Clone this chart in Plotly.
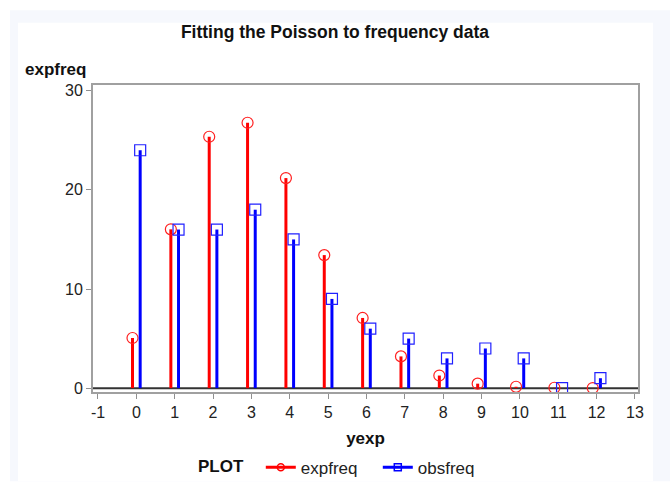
import plotly.graph_objects as go

yexp = [0, 1, 2, 3, 4, 5, 6, 7, 8, 9, 10, 11, 12]
expfreq = [5.06, 16.02, 25.36, 26.77, 21.19, 13.42, 7.08, 3.20, 1.27, 0.45, 0.14, 0.04, 0.01]
obsfreq = [24, 16, 16, 18, 15, 9, 6, 5, 3, 4, 3, 0, 1]
x_ticks = list(range(-1, 14))

offset = 0.1
W, H = 670, 498
L, R, T, B = 93, 32, 85, 93
pw, ph = W - L - R, H - T - B

def px_x(p):
    return (p - L) / pw

def px_y(p):
    return (H - B - p) / ph

FONT = "Liberation Sans, Arial, sans-serif"
RED = "#ff0000"
BLUE = "#0000ff"

fig = go.Figure()

fig.add_trace(go.Scatter(
    x=[v - offset for v in yexp], y=expfreq, mode="markers",
    marker=dict(symbol="circle-open", size=11, color="#ff2020", line=dict(width=1.2)),
    error_y=dict(type="data", symmetric=False, array=[0] * len(expfreq),
                 arrayminus=expfreq, thickness=3, width=0, color=RED),
    showlegend=False, hoverinfo="x+y"))

fig.add_trace(go.Scatter(
    x=[v + offset for v in yexp], y=obsfreq, mode="markers",
    marker=dict(symbol="square-open", size=11, color="#2020ff", line=dict(width=1.2)),
    error_y=dict(type="data", symmetric=False, array=[0] * len(obsfreq),
                 arrayminus=obsfreq, thickness=3, width=0, color=BLUE),
    showlegend=False, hoverinfo="x+y"))

fig.add_trace(go.Scatter(x=[None], y=[None], mode="lines+markers", name="expfreq",
                         line=dict(color=RED, width=3),
                         marker=dict(symbol="circle-open", size=7, color=RED, line=dict(width=1.5))))
fig.add_trace(go.Scatter(x=[None], y=[None], mode="lines+markers", name="obsfreq",
                         line=dict(color=BLUE, width=3),
                         marker=dict(symbol="square-open", size=7, color=BLUE, line=dict(width=1.5))))

shapes = [
    dict(type="rect", xref="paper", yref="paper", x0=px_x(10), x1=px_x(670), y0=px_y(498), y1=px_y(7),
         fillcolor="#f6f8fd", line=dict(width=0), layer="below"),
    dict(type="rect", xref="paper", yref="paper", x0=px_x(18), x1=px_x(653), y0=px_y(498), y1=px_y(20),
         fillcolor="#ffffff", line=dict(width=0), layer="below"),
    dict(type="line", xref="paper", yref="y", x0=0, x1=1, y0=0, y1=0,
         line=dict(color="#333333", width=2), layer="below"),
]

fig.update_layout(
    width=W, height=H,
    margin=dict(l=L, r=R, t=T, b=B),
    paper_bgcolor="#ffffff", plot_bgcolor="#ffffff",
    font=dict(family=FONT, size=16, color="#222222"),
    title=dict(text="<b>Fitting the Poisson to frequency data</b>", x=0.5, xanchor="center",
               y=1 - 32 / H, yanchor="middle", font=dict(size=17.5, color="#111111")),
    xaxis=dict(range=[-1.13, 13.08], tickmode="array", tickvals=x_ticks,
               ticktext=[str(v) for v in x_ticks], showgrid=False, zeroline=False,
               showline=True, mirror=True, linecolor="#a0a0a0", linewidth=2,
               ticks="outside", ticklen=5, tickcolor="#909090", tickwidth=1,
               tickfont=dict(size=16, color="#222222"),
               title=dict(text="<b>yexp</b>", font=dict(size=17, color="#111111"), standoff=12)),
    yaxis=dict(range=[-0.39, 30.58], tickvals=[0, 10, 20, 30], showgrid=False, zeroline=False,
               showline=True, mirror=True, linecolor="#a0a0a0", linewidth=2,
               ticks="outside", ticklen=5, tickcolor="#909090", tickwidth=1,
               tickfont=dict(size=16, color="#222222")),
    shapes=shapes,
    annotations=[dict(text="<b>expfreq</b>", xref="paper", yref="paper", x=px_x(23), y=px_y(69),
                      xanchor="left", yanchor="middle", showarrow=False,
                      font=dict(size=17, color="#111111"))],
    legend=dict(orientation="h", x=px_x(196), xanchor="left", y=px_y(484), yanchor="middle",
                title=dict(text="<b>PLOT</b>&nbsp;&nbsp;", font=dict(size=17, color="#111111")),
                font=dict(size=17, color="#222222"), bgcolor="rgba(0,0,0,0)",
                itemwidth=30, tracegroupgap=0, entrywidth=72, entrywidthmode="pixels"),
)

fig.write_html("out.html", config={"displayModeBar": False},
               post_script="document.body.style.margin='0';")
